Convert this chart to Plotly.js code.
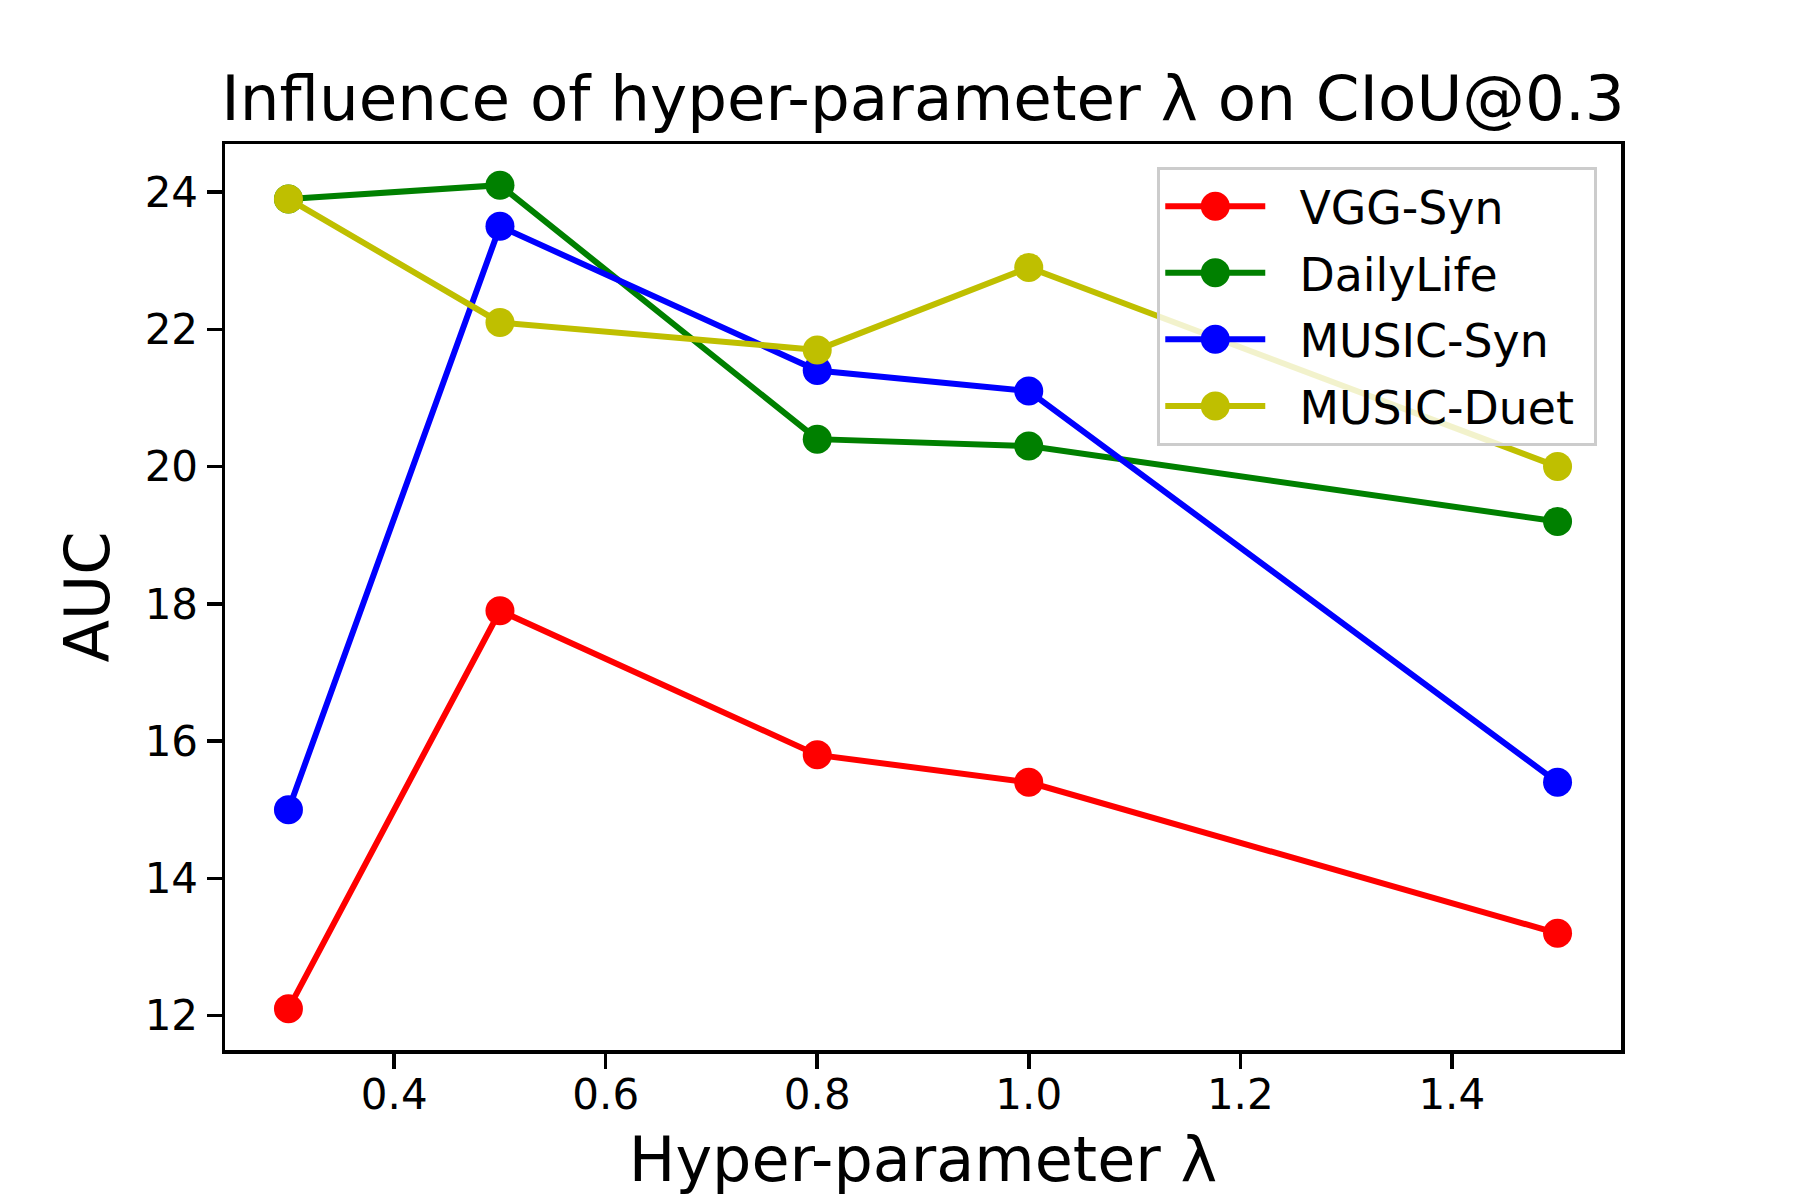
<!DOCTYPE html>
<html>
<head>
<meta charset="utf-8">
<script src="https://cdn.plot.ly/plotly-3.0.1.min.js"></script>
<style>
  html, body { margin: 0; padding: 0; background: #fff; }
  #chart { width: 1800px; height: 1200px; }
</style>
</head>
<body>
<div id="chart"></div>
<script>
// hyper-parameter values on the x axis
const lambdas = [0.3, 0.5, 0.8, 1.0, 1.5];

// AUC per dataset
const vggSyn    = [12.1, 17.9, 15.8, 15.4, 13.2];
const dailyLife = [23.9, 24.1, 20.4, 20.3, 19.2];
const musicSyn  = [15.0, 23.5, 21.4, 21.1, 15.4];
const musicDuet = [23.9, 22.1, 21.7, 22.9, 20.0];

const seriesNames  = ['VGG-Syn', 'DailyLife', 'MUSIC-Syn', 'MUSIC-Duet'];
const seriesValues = [vggSyn, dailyLife, musicSyn, musicDuet];
const seriesColors = ['#ff0000', '#008000', '#0000ff', '#bfbf00'];

const xTicks = [0.4, 0.6, 0.8, 1.0, 1.2, 1.4];
const yTicks = [12, 14, 16, 18, 20, 22, 24];

const font = 'DejaVu Sans, sans-serif';
const NB = '\u00A0';

const traces = seriesNames.map((name, i) => ({
    x: lambdas,
    y: seriesValues[i],
    // padding around legend text, plotly has no option for that gap
    name: NB + NB + name + NB,
    type: 'scatter',
    mode: 'lines+markers',
    line: { color: seriesColors[i], width: 6 },
    marker: { color: seriesColors[i], size: 29 },
    legendgroup: name
}));

const axisCommon = {
    showgrid: false,
    zeroline: false,
    showline: true,
    mirror: true,
    linecolor: '#000',
    linewidth: 3.5,
    ticks: 'outside',
    ticklen: 15,
    tickwidth: 3.5,
    tickcolor: '#000',
    tickfont: { family: font, size: 42, color: '#000' },
    automargin: false
};

const layout = {
    width: 1800,
    height: 1200,
    margin: { l: 225, r: 179, t: 144, b: 150 },
    paper_bgcolor: '#fff',
    plot_bgcolor: '#fff',
    title: {
        text: 'Influence of hyper-parameter λ on CIoU@0.3',
        font: { family: font, size: 62.7, color: '#000' },
        x: 923 / 1800, xanchor: 'center',
        yref: 'container', y: 1 - 98 / 1200, yanchor: 'middle'
    },
    xaxis: Object.assign({}, axisCommon, {
        range: [0.24, 1.56],
        tickvals: xTicks,
        ticktext: xTicks.map(v => v.toFixed(1)),
        ticklabelstandoff: -10,
        title: { text: 'Hyper-parameter λ', font: { family: font, size: 62, color: '#000' }, standoff: 20 }
    }),
    yaxis: Object.assign({}, axisCommon, {
        range: [11.5, 24.7],
        tickvals: yTicks,
        ticktext: yTicks.map(String),
        title: { text: 'AUC', font: { family: font, size: 62, color: '#000' }, standoff: 16 }
    }),
    showlegend: true,
    legend: {
        x: 0.983, xanchor: 'right',
        y: 0.9746, yanchor: 'top',
        bgcolor: 'rgba(255,255,255,0.8)',
        bordercolor: '#cccccc',
        borderwidth: 3,
        font: { family: font, size: 45.8, color: '#000' },
        itemwidth: 100,
        tracegroupgap: 4
    }
};

Plotly.newPlot('chart', traces, layout, { displayModeBar: false, staticPlot: true }).then(gd => {
    // legend markers are capped at 16px by plotly, make them match the plot markers
    const r = 14.5;
    const circle = 'M' + r + ',0A' + r + ',' + r + ' 0 1,1 0,-' + r + 'A' + r + ',' + r + ' 0 0,1 ' + r + ',0Z';
    gd.querySelectorAll('.legend .legendpoints path.scatterpts').forEach(p => p.setAttribute('d', circle));
});
</script>
</body>
</html>
